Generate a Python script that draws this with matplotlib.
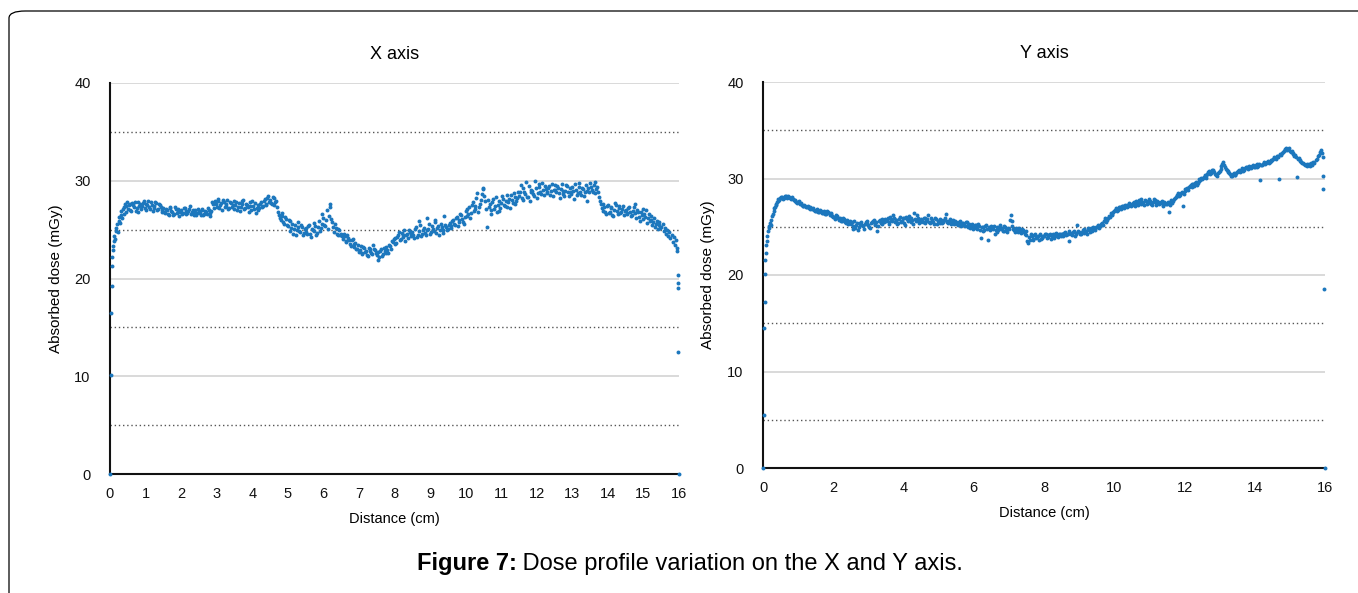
import numpy as np
import matplotlib
matplotlib.use("Agg")
import matplotlib.pyplot as plt
from matplotlib.patches import FancyBboxPatch

plt.rcParams['font.family'] = ['Liberation Sans', 'DejaVu Sans']

# ---------------- X axis profile ----------------
# first few cm-fractions at the field edge
x_start_dist = [0.0, 0.03, 0.04, 0.05, 0.06, 0.07, 0.08, 0.09, 0.10, 0.12, 0.14, 0.16, 0.18, 0.20,
                0.22, 0.24, 0.26, 0.28, 0.30, 0.32, 0.34, 0.36, 0.38, 0.40, 0.42, 0.44, 0.46, 0.48]
x_start_dose = [0.0, 10.1, 16.5, 19.2, 21.3, 22.2, 22.9, 23.3, 23.8, 24.3, 24.0, 24.9, 25.2, 25.6,
                24.8, 25.9, 26.3, 25.7, 26.5, 26.9, 26.2, 27.1, 26.6, 27.3, 27.6, 26.8, 27.4, 27.8]

# readings from 0.5 cm to 15.5 cm, every 0.05 cm (one row per cm)
x_main_dose = [
    27.1, 27.6, 26.9, 27.5, 27.8, 27.2, 26.8, 27.6, 27.4, 27.9, 27.0, 27.5, 27.3, 27.8, 26.9, 27.4, 27.7, 27.1, 27.5, 26.8,
    27.2, 26.7, 27.0, 26.5, 27.3, 26.8, 26.6, 27.1, 26.9, 26.4, 27.0, 26.7, 27.2, 26.6, 26.9, 27.4, 26.8, 26.5, 27.0, 26.7,
    26.9, 26.5, 27.1, 26.6, 26.8, 27.2, 26.4, 26.9, 27.6, 27.9, 27.3, 28.1, 27.5, 27.0, 27.8, 27.4, 28.0, 27.2, 27.7, 27.5,
    27.1, 27.8, 27.3, 26.9, 27.6, 28.0, 27.2, 27.5, 26.8, 27.4, 27.9, 27.1, 26.7, 27.5, 27.2, 27.8, 27.4, 28.1, 27.6, 28.4,
    28.0, 27.6, 28.2, 27.8, 27.3, 26.5, 26.0, 26.4, 25.6, 26.1, 25.4, 25.9, 25.2, 24.6, 25.5, 25.0, 25.8, 24.8, 25.3, 24.7,
    25.2, 24.6, 25.5, 24.2, 25.0, 25.7, 24.5, 25.3, 24.9, 25.6, 26.2, 25.4, 27.0, 26.4, 27.6, 25.8, 24.8, 25.2, 24.4, 25.0,
    24.6, 24.0, 24.3, 23.7, 24.1, 23.5, 23.9, 23.2, 23.6, 23.0, 22.7, 23.3, 22.5, 23.1, 22.8, 22.3, 23.0, 22.6, 23.4, 22.9,
    22.4, 21.9, 22.8, 22.3, 23.1, 22.6, 22.9, 23.4, 23.0, 23.7, 24.1, 23.6, 24.4, 23.9, 24.7, 24.2, 23.8, 24.6, 25.0, 24.3,
    24.8, 24.1, 25.3, 24.5, 25.9, 24.3, 25.0, 24.7, 26.2, 25.1, 24.6, 25.4, 24.9, 25.8, 25.2, 24.4, 25.6, 25.0, 26.4, 25.3,
    25.1, 25.7, 25.4, 26.0, 25.5, 26.3, 25.8, 26.6, 26.1, 25.6, 26.9, 26.4, 27.3, 26.7, 27.8, 27.1, 28.2, 26.8, 27.6, 28.6,
    29.2, 27.9, 25.3, 27.3, 26.6, 27.8, 27.1, 28.3, 27.5, 26.9, 27.7, 28.1, 27.4, 28.5, 27.8, 27.2, 28.0, 28.7, 27.6, 28.2,
    28.4, 29.6, 28.0, 28.8, 29.9, 28.3, 27.9, 29.1, 28.6, 30.0, 28.2, 29.4, 28.9, 29.8, 28.5, 29.2, 28.7, 29.5, 29.0, 28.4,
    29.6, 28.8, 29.3, 28.2, 29.7, 28.6, 29.0, 29.5, 28.4, 28.9, 29.4, 28.1, 29.1, 28.7, 29.8, 28.5, 29.2, 28.9, 27.9, 29.3,
    29.8, 29.1, 29.6, 28.7, 29.4, 28.3, 27.6, 26.9, 27.3, 26.6, 27.5, 26.8, 27.2, 26.4, 27.7, 26.9, 27.4, 26.7, 27.1, 26.5,
    27.0, 26.6, 27.3, 26.4, 26.9, 27.6, 26.2, 26.8, 25.9, 26.5, 27.1, 26.3, 25.7, 26.6, 26.0, 25.5, 26.2, 25.6, 25.1, 25.8,
    25.3,
]

# second pass of readings, 0.525 cm to 15.475 cm (between the first ones)
x_second_dose = [
    27.5, 27.0, 27.7, 27.3, 26.9, 27.8, 27.4, 27.1, 27.7, 27.2, 27.6, 27.9, 27.1, 27.5, 27.2, 27.8, 27.0, 27.6, 27.3, 27.0,
    26.8, 27.1, 26.6, 27.2, 26.9, 26.5, 27.3, 26.7, 27.1, 26.8, 26.6, 27.2, 26.9, 26.7, 27.1, 26.6, 27.0, 26.8, 26.5, 27.1,
    26.7, 27.0, 26.5, 26.9, 26.6, 27.0, 26.7, 27.8, 27.2, 27.6, 27.9, 27.2, 27.7, 28.0, 27.3, 27.6, 27.1, 27.8, 27.3, 27.9,
    27.5, 27.0, 27.7, 27.3, 27.9, 27.1, 27.6, 27.3, 27.8, 27.0, 27.4, 27.7, 27.2, 27.0, 27.6, 27.3, 27.9, 27.5, 28.2, 27.8,
    27.7, 28.3, 27.5, 27.9, 26.8, 26.2, 26.7, 25.8, 26.3, 25.5, 26.0, 24.9, 25.6, 25.1, 24.4, 25.3, 24.9, 25.5, 24.5, 25.1,
    24.8, 25.4, 24.6, 25.1, 24.9, 25.4, 24.7, 25.9, 25.2, 26.6, 25.5, 26.0, 25.1, 27.3, 26.1, 25.3, 25.6, 24.6, 25.1, 24.5,
    24.3, 24.6, 23.8, 24.4, 23.9, 23.3, 24.0, 23.5, 23.0, 23.4, 22.9, 22.6, 23.2, 22.7, 22.4, 23.1, 22.8, 22.5, 23.0, 22.6,
    22.7, 22.2, 23.0, 22.5, 22.8, 23.2, 22.6, 23.3, 23.8, 24.0, 23.5, 24.2, 24.8, 24.0, 24.4, 25.0, 24.5, 24.1, 24.8, 24.6,
    24.4, 25.1, 24.2, 24.9, 25.5, 24.6, 25.2, 24.4, 25.0, 25.6, 24.8, 25.1, 26.0, 24.7, 25.4, 25.0, 25.3, 24.7, 25.5, 25.0,
    25.5, 25.2, 25.9, 25.6, 26.2, 25.4, 26.0, 26.5, 25.8, 26.3, 27.1, 26.6, 26.2, 27.5, 26.9, 27.4, 28.7, 27.3, 28.0, 29.3,
    28.4, 27.1, 28.0, 27.6, 27.0, 28.1, 27.4, 26.8, 27.9, 27.2, 28.4, 27.5, 27.9, 27.3, 28.1, 28.5, 27.7, 28.3, 27.9, 28.8,
    28.9, 28.2, 29.3, 28.6, 28.3, 29.5, 28.8, 29.0, 28.4, 29.3, 28.7, 29.7, 28.6, 29.1, 29.5, 28.8, 29.3, 28.5, 29.7, 29.1,
    29.1, 29.5, 28.7, 29.2, 29.0, 28.4, 29.6, 28.8, 29.3, 28.6, 29.0, 29.7, 28.5, 29.4, 28.9, 29.3, 28.4, 29.6, 29.0, 28.8,
    29.4, 28.8, 29.9, 29.2, 28.9, 27.9, 27.2, 27.6, 26.8, 27.4, 26.7, 27.3, 26.5, 27.0, 27.5, 26.6, 27.2, 26.8, 27.4, 26.9,
    26.7, 27.2, 26.8, 26.5, 27.3, 26.7, 27.0, 26.3, 26.8, 26.1, 26.6, 27.0, 26.2, 25.9, 26.4, 25.8, 25.3, 25.9, 25.5, 25.2,
]

x_end_dist = [15.55, 15.58, 15.61, 15.64, 15.67, 15.70, 15.73, 15.76, 15.79, 15.82, 15.85, 15.88,
              15.91, 15.93, 15.95, 15.96, 15.96, 15.97, 15.97, 16.0]
x_end_dose = [25.6, 24.9, 25.2, 24.6, 25.0, 24.3, 24.8, 24.1, 24.5, 23.7, 24.2, 23.4,
              23.9, 23.1, 22.8, 20.4, 19.5, 19.0, 12.5, 0.0]

# ---------------- Y axis profile ----------------
y_start_dist = [0.0, 0.03, 0.04, 0.05, 0.06, 0.07, 0.08, 0.09, 0.10, 0.12, 0.14, 0.16, 0.18, 0.20,
                0.22, 0.24, 0.26, 0.28, 0.30, 0.32, 0.34, 0.36, 0.38, 0.40, 0.42, 0.44, 0.46, 0.48]
y_start_dose = [0.0, 5.5, 14.5, 17.2, 20.1, 21.6, 22.3, 23.1, 23.5, 24.0, 24.6, 24.9, 25.1, 25.4,
                25.2, 25.7, 26.1, 26.3, 26.6, 26.9, 27.0, 27.3, 27.4, 27.6, 27.7, 27.9, 27.8, 28.0]

y_main_dose = [
    28.0, 28.1, 28.0, 28.2, 28.1, 28.1, 27.9, 27.9, 27.7, 27.6, 27.6, 27.4, 27.3, 27.1, 27.2, 27.0, 26.9, 27.0, 26.8, 26.7,
    26.6, 26.7, 26.5, 26.6, 26.4, 26.5, 26.3, 26.5, 26.2, 26.4, 26.0, 25.8, 26.1, 25.7, 25.9, 25.6, 25.8, 25.4, 25.7, 25.5,
    25.3, 24.8, 25.6, 25.2, 24.7, 25.4, 25.5, 25.1, 25.3, 25.6, 25.2, 24.9, 25.5, 25.7, 25.3, 24.6, 25.6, 25.4, 25.8, 25.5,
    25.6, 25.9, 25.3, 25.8, 26.2, 25.5, 25.7, 25.4, 26.0, 25.6, 25.9, 25.2, 25.8, 26.1, 25.5, 25.7, 26.4, 25.6, 25.9, 25.4,
    25.8, 25.5, 25.9, 25.6, 26.2, 25.4, 25.7, 25.5, 25.9, 25.3, 25.6, 25.8, 25.4, 25.7, 26.3, 25.5, 25.6, 25.3, 25.7, 25.4,
    25.5, 25.2, 25.6, 25.3, 25.4, 25.1, 25.5, 25.2, 24.9, 25.3, 25.0, 25.2, 24.8, 25.1, 23.8, 25.0, 24.7, 25.2, 23.6, 24.9,
    25.1, 24.8, 24.2, 25.0, 24.7, 25.2, 24.9, 24.6, 25.0, 24.5, 24.8, 26.2, 25.6, 24.7, 24.9, 24.5, 24.8, 24.4, 24.7, 24.3,
    24.1, 23.3, 23.6, 24.0, 23.7, 24.2, 23.9, 23.6, 24.1, 23.8, 24.0, 24.3, 23.9, 24.1, 23.7, 24.2, 24.0, 24.4, 23.9, 24.2,
    24.3, 24.0, 24.5, 24.2, 23.5, 24.4, 24.1, 24.6, 24.3, 25.2, 24.5, 24.2, 24.7, 24.4, 24.6, 24.9, 24.5, 24.8, 25.0, 24.7,
    25.0, 25.2, 25.1, 25.4, 25.6, 25.9, 25.7, 26.1, 26.4, 26.2, 26.6, 26.9, 26.7, 27.0, 26.8, 27.1, 27.3, 27.0, 27.2, 27.4,
    27.3, 27.6, 27.2, 27.5, 27.8, 27.4, 27.6, 27.3, 27.7, 27.5, 27.9, 27.4, 27.6, 27.8, 27.3, 27.6, 27.5, 27.7, 27.2, 27.5,
    27.4, 26.5, 27.6, 27.5, 27.9, 28.1, 28.3, 28.2, 28.5, 27.2, 28.7, 28.9, 28.8, 29.2, 29.1, 29.4, 29.5, 29.3, 29.7, 29.8,
    30.0, 30.2, 30.1, 30.5, 30.8, 30.6, 30.9, 30.7, 30.4, 30.6, 30.8, 31.3, 31.7, 31.2, 30.9, 30.7, 30.5, 30.3, 30.6, 30.4,
    30.7, 30.9, 30.8, 31.1, 30.9, 31.2, 31.0, 31.3, 31.1, 31.4, 31.2, 31.5, 31.3, 29.8, 31.4, 31.6, 31.5, 31.7, 31.6, 31.8,
    31.9, 32.2, 32.0, 32.3, 30.0, 32.4, 32.7, 33.0, 33.2, 33.1, 32.9, 32.8, 32.5, 32.4, 30.2, 32.1, 31.8, 31.6, 31.5, 31.4,
    31.3,
]

y_second_dose = [
    28.1, 27.9, 28.2, 28.0, 28.2, 28.0, 28.1, 27.8, 27.8, 27.5, 27.7, 27.5, 27.2, 27.3, 27.0, 27.1, 26.8, 26.9, 26.9, 26.6,
    26.8, 26.5, 26.7, 26.4, 26.6, 26.3, 26.6, 26.4, 26.3, 26.1, 26.0, 26.2, 25.9, 25.8, 25.6, 25.9, 25.5, 25.6, 25.3, 25.6,
    25.5, 25.1, 24.9, 25.4, 25.0, 25.3, 25.2, 24.8, 25.5, 25.3, 25.0, 25.4, 25.6, 25.2, 25.5, 25.1, 25.7, 25.3, 25.6, 25.8,
    25.7, 25.5, 26.0, 25.6, 25.9, 25.7, 25.3, 25.8, 25.5, 25.9, 25.4, 26.0, 25.6, 25.8, 25.9, 25.3, 25.8, 26.2, 25.7, 25.5,
    25.6, 25.9, 25.4, 25.8, 25.5, 25.9, 25.6, 25.3, 25.8, 25.6, 25.4, 25.7, 25.5, 25.9, 25.6, 25.4, 25.8, 25.5, 25.3, 25.6,
    25.3, 25.5, 25.1, 25.4, 25.2, 25.5, 25.0, 25.3, 25.1, 24.8, 25.2, 24.9, 25.3, 24.7, 25.0, 24.6, 25.1, 24.8, 25.0, 24.7,
    24.9, 25.1, 24.7, 24.5, 25.0, 24.8, 24.6, 25.1, 24.7, 24.9, 25.7, 25.1, 24.8, 24.5, 24.7, 24.9, 24.6, 24.8, 24.5, 24.6,
    23.5, 23.9, 24.2, 23.6, 24.1, 23.8, 24.0, 24.3, 23.7, 24.0, 24.2, 23.8, 24.1, 24.3, 24.0, 23.8, 24.2, 24.1, 24.3, 24.0,
    24.2, 24.4, 24.1, 24.3, 24.6, 24.2, 24.5, 24.0, 24.4, 24.6, 24.3, 24.5, 24.8, 24.6, 24.3, 24.7, 24.9, 24.6, 24.8, 25.0,
    25.1, 24.9, 25.3, 25.2, 25.7, 25.5, 25.9, 26.0, 26.3, 26.5, 26.7, 26.6, 27.0, 26.9, 27.2, 26.9, 27.1, 27.3, 27.5, 27.2,
    27.5, 27.4, 27.7, 27.3, 27.6, 27.9, 27.5, 27.8, 27.4, 27.6, 27.7, 27.3, 27.9, 27.5, 27.7, 27.4, 27.6, 27.3, 27.6, 27.4,
    27.6, 27.3, 27.8, 27.7, 28.0, 28.2, 28.5, 28.3, 28.6, 28.4, 28.9, 29.0, 29.1, 29.3, 29.4, 29.2, 29.6, 29.5, 29.9, 30.1,
    30.1, 30.4, 30.3, 30.7, 30.5, 30.9, 30.8, 30.5, 30.3, 30.7, 31.0, 31.5, 31.4, 31.0, 30.8, 30.6, 30.3, 30.5, 30.4, 30.6,
    30.8, 30.7, 31.0, 30.8, 31.1, 31.2, 31.1, 31.2, 31.3, 31.2, 31.4, 31.2, 31.5, 31.4, 31.5, 31.7, 31.6, 31.8, 31.7, 31.9,
    32.0, 32.1, 32.3, 32.2, 32.5, 32.6, 32.9, 33.1, 33.0, 33.2, 32.7, 32.6, 32.3, 32.2, 32.0, 31.9, 31.7, 31.6, 31.4, 31.5,
]

y_end_dist = [15.55, 15.58, 15.61, 15.64, 15.67, 15.70, 15.73, 15.76, 15.79, 15.82, 15.85, 15.88,
              15.91, 15.93, 15.95, 15.95, 15.96, 16.0]
y_end_dose = [31.5, 31.3, 31.6, 31.4, 31.7, 31.6, 31.9, 32.0, 32.3, 32.4, 32.7, 33.0,
              32.6, 32.2, 30.3, 28.9, 18.6, 0.0]

x_ticks_left = list(range(0, 17))
x_ticks_right = list(range(0, 17, 2))
y_ticks = [0, 10, 20, 30, 40]
dotted_levels = [5, 15, 25, 35]

dot_color = '#1c77bd'

fig = plt.figure(figsize=(13.58, 5.93), dpi=100)

# rounded frame around the figure panel
frame = FancyBboxPatch((9 / 1358, -0.2), 1.2, 1 - 11 / 593 + 0.2,
                       boxstyle="round,pad=0,rounding_size=0.012",
                       transform=fig.transFigure, fill=False, edgecolor='black', linewidth=0.9)
fig.patches.append(frame)

ax1 = fig.add_axes([110 / 1358, 1 - 474 / 593, 569 / 1358, 391 / 593])
ax2 = fig.add_axes([763 / 1358, 1 - 468 / 593, 562 / 1358, 386 / 593])


def style_axes(ax, title, xticks):
    ax.set_xlim(0, 16)
    ax.set_ylim(0, 40)
    ax.set_xticks(xticks)
    ax.set_yticks(y_ticks)
    for lv in y_ticks[1:]:
        ax.axhline(lv, color='#d9d9d9', linewidth=1.4, zorder=0)
    for lv in dotted_levels:
        ax.axhline(lv, color='#555555', linewidth=1.0, linestyle=(0, (1, 2)), zorder=0)
    for side in ['top', 'right']:
        ax.spines[side].set_visible(False)
    for side in ['left', 'bottom']:
        ax.spines[side].set_linewidth(1.5)
        ax.spines[side].set_color('#111111')
    ax.tick_params(axis='both', length=0, labelsize=10.5, colors='#111111')
    ax.tick_params(axis='x', pad=9)
    ax.tick_params(axis='y', pad=14)
    ax.set_title(title, fontsize=13, pad=17)
    ax.set_xlabel('Distance (cm)', fontsize=10.5, labelpad=8)


style_axes(ax1, 'X axis', x_ticks_left)
style_axes(ax2, 'Y axis', x_ticks_right)
ax1.set_ylabel('Absorbed dose (mGy)', fontsize=11, labelpad=8)
ax2.set_ylabel('Absorbed dose (mGy)', fontsize=11, labelpad=9)

x_main_dist = np.linspace(0.5, 15.5, len(x_main_dose))
x_second_dist = np.linspace(0.525, 15.475, len(x_second_dose))
y_main_dist = np.linspace(0.5, 15.5, len(y_main_dose))
y_second_dist = np.linspace(0.525, 15.475, len(y_second_dose))

for ax, d_parts, v_parts in [
    (ax1, [x_start_dist, x_main_dist, x_second_dist, x_end_dist],
     [x_start_dose, x_main_dose, x_second_dose, x_end_dose]),
    (ax2, [y_start_dist, y_main_dist, y_second_dist, y_end_dist],
     [y_start_dose, y_main_dose, y_second_dose, y_end_dose]),
]:
    dist = np.concatenate([np.asarray(p, dtype=float) for p in d_parts])
    dose = np.concatenate([np.asarray(p, dtype=float) for p in v_parts])
    ax.scatter(dist, dose, s=8, color=dot_color, linewidths=0, zorder=3, clip_on=False)

# caption with bold lead-in
fig.canvas.draw()
renderer = fig.canvas.get_renderer()
cap_y = 1 - 570 / 593
t1 = fig.text(0, cap_y, 'Figure 7:', fontsize=17, fontweight='bold', va='baseline')
t2 = fig.text(0, cap_y, ' Dose profile variation on the X and Y axis.', fontsize=17, va='baseline')
w1 = t1.get_window_extent(renderer).width
w2 = t2.get_window_extent(renderer).width
start = 690 - (w1 + w2) / 2
t1.set_x(start / 1358)
t2.set_x((start + w1) / 1358)

fig.savefig('out.png', dpi=100)
